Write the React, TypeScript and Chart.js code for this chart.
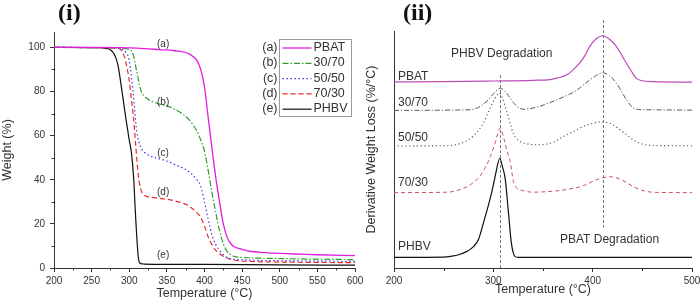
import React, { useEffect, useRef } from 'react';
import { Chart, registerables } from 'chart.js';
Chart.register(...registerables);

const FONT = "'Liberation Sans', Arial, Helvetica, sans-serif";
const SERIF = "'Liberation Serif', 'Times New Roman', serif";
const INK = '#333333';

// ---------- (i) TGA data: temperature (°C) -> weight (%) ----------
const tgaTempPBAT = [200, 250, 300, 320, 340, 360, 380, 390, 395, 400, 405, 410, 415, 420, 425, 430, 435, 440, 450, 460, 480, 500, 550, 600];
const tgaPBAT = [100, 100, 99.8, 99.5, 99, 98.5, 97, 94, 90, 82, 68, 54, 41, 30, 20, 14, 11, 9.5, 8.5, 7.6, 7, 6.6, 6, 5.6];

const tgaTemp3070 = [200, 280, 290, 300, 305, 310, 315, 320, 325, 330, 340, 350, 360, 370, 380, 390, 395, 400, 405, 410, 415, 420, 425, 430, 435, 440, 450, 500, 550, 600];
const tga3070 = [100, 99.8, 99.6, 99, 97, 89, 81, 78, 76.5, 75.5, 74.3, 73.5, 72, 70, 67, 62, 58, 53, 44, 34, 25, 17, 11, 7.5, 6, 5.2, 4.8, 4.3, 4, 3.8];

const tgaTemp5050 = [200, 285, 290, 295, 300, 305, 310, 315, 320, 330, 340, 350, 360, 370, 380, 390, 395, 400, 405, 410, 415, 420, 425, 430, 440, 460, 500, 600];
const tga5050 = [100, 99.8, 99.3, 98, 94, 80, 62, 55, 52.5, 50.5, 49.5, 48.5, 47, 45.5, 43.5, 40, 37, 30, 22, 15, 10.5, 8, 6, 4.8, 4, 3.6, 3.3, 3];

const tgaTemp7030 = [200, 280, 290, 295, 300, 303, 306, 309, 312, 315, 320, 330, 340, 350, 360, 370, 380, 390, 395, 400, 405, 410, 415, 420, 430, 440, 460, 500, 600];
const tga7030 = [100, 99.8, 98.5, 94, 85, 76, 67, 54, 42, 36, 33, 32, 31.6, 31.2, 30.5, 29.5, 28, 25, 23, 19, 14, 10.5, 8, 6.5, 4.5, 3.5, 3, 2.7, 2.4];

const tgaTempPHBV = [200, 260, 270, 275, 280, 285, 290, 295, 300, 303, 306, 308, 310, 312, 314, 320, 400, 500, 600];
const tgaPHBV = [100, 99.9, 99.5, 99, 97, 92, 81, 69, 58, 52, 40, 26, 14, 5, 2.3, 1.8, 1.6, 1.4, 1.3];

// ---------- (ii) DTG data: temperature (°C) -> offset derivative (arb.) ----------
const dtgTempPBAT = [200, 250, 300, 340, 357, 365, 374, 380, 387, 392, 397, 403, 410, 417, 424, 429, 434, 439, 444, 450, 460, 500];
const dtgPBAT = [78.5, 78.6, 78.9, 79.2, 79.5, 80.2, 81.5, 83.5, 86.5, 89.5, 93.4, 96.5, 98, 96.5, 93.4, 90, 86.4, 83, 80, 79, 78.6, 78.4];

const dtgTemp3070 = [200, 270, 280, 288, 295, 300, 307, 313, 318, 323, 330, 345, 355, 364, 375, 384, 390, 397, 404, 410, 417, 424, 429, 434, 441, 450, 470, 500];
const dtg3070 = [66.5, 66.7, 67, 68.5, 71, 73.5, 75.8, 74, 71, 68.5, 67, 68, 69.5, 71, 73, 75, 77, 79.3, 81.3, 82.4, 81, 78, 74.5, 71, 67.5, 66.8, 66.7, 66.6];

const dtgTemp5050 = [200, 250, 262, 270, 278, 285, 291, 296, 301, 306, 310, 313, 317, 320, 325, 333, 345, 360, 370, 380, 390, 400, 410, 420, 428, 435, 441, 450, 460, 500];
const dtg5050 = [51.5, 51.6, 52, 53, 55, 58, 62, 66.7, 71, 73.8, 71, 66.7, 61, 56.8, 54, 52.5, 52, 53, 55.4, 57.5, 59.6, 61, 61.7, 60.5, 58.2, 56, 54, 52.3, 51.7, 51.6];

const dtgTemp7030 = [200, 255, 262, 270, 278, 286, 292, 297, 302, 307, 311, 314, 317, 320, 323, 327, 340, 360, 375, 390, 405, 418, 430, 441, 452, 465, 500];
const dtg7030 = [31.8, 32, 32.6, 33.6, 35.5, 38.5, 42.5, 47, 53, 59, 54, 49, 45, 37, 34, 33, 32, 32.4, 33.2, 34.6, 37.4, 38.5, 37, 34.3, 32.5, 31.9, 31.8];

const dtgTempPHBV = [200, 250, 258, 265, 273, 280, 285, 290, 296, 300, 303, 306.5, 309, 312, 315, 318, 320, 322, 325, 400, 500];
const dtgPHBV = [4.5, 4.6, 5, 5.6, 6.9, 9, 12, 19, 28, 35, 41, 46.3, 43, 37.5, 24.5, 11, 6.5, 4.8, 4.5, 4.5, 4.5];

// tick / label values
const tgaMinorX = [225, 275, 325, 375, 425, 475, 525, 575];
const tgaMinorY = [10, 30, 50, 70, 90];
const dtgMinorX = [250, 350, 450];
const legendLetters = ['(a)', '(b)', '(c)', '(d)', '(e)'];
const seriesNames = ['PBAT', '30/70', '50/50', '70/30', 'PHBV'];
const tgaLabelTemp = 345;
const tgaLabelWeights = [101.5, 75, 52, 34.5, 6];
const dtgLabelTemp = 204;
const dtgLabelValues = [80.6, 69.6, 54.9, 35.9, 8.9];
const peakPHBV = 307;
const peakPBAT = 410.6;

const pts = (xs: number[], ys: number[]) => xs.map((x, i) => ({ x, y: ys[i] }));

const leftStyles = [
  { color: '#e21de2', dash: [] as number[], width: 1.3 },
  { color: '#2e9e2e', dash: [6, 2, 1.5, 2], width: 1.2 },
  { color: '#3a3af0', dash: [1.5, 2.5], width: 1.2 },
  { color: '#ee2a2a', dash: [5, 3], width: 1.2 },
  { color: '#111111', dash: [] as number[], width: 1.2 },
];
const rightStyles = [
  { color: '#b84db8', dash: [] as number[], width: 1.2 },
  { color: '#4a624a', dash: [5, 2, 1.2, 2], width: 1 },
  { color: '#555555', dash: [1.2, 2.6], width: 1.1 },
  { color: '#c8505e', dash: [4, 3], width: 1 },
  { color: '#111111', dash: [] as number[], width: 1.2 },
];

function minorTicks(chart: any, axis: string, values: number[], len: number) {
  const ctx = chart.ctx;
  const s = chart.scales[axis];
  const ca = chart.chartArea;
  ctx.save();
  ctx.strokeStyle = INK;
  ctx.lineWidth = 1;
  ctx.setLineDash([]);
  ctx.beginPath();
  values.forEach((v) => {
    const p = Math.round(s.getPixelForValue(v)) + 0.5;
    if (axis === 'x') {
      ctx.moveTo(p, ca.bottom);
      ctx.lineTo(p, ca.bottom + len);
    } else {
      ctx.moveTo(ca.left, p);
      ctx.lineTo(ca.left - len, p);
    }
  });
  ctx.stroke();
  ctx.restore();
}

const leftOverlay = {
  id: 'leftOverlay',
  afterDraw(chart: any) {
    const ctx = chart.ctx;
    const ca = chart.chartArea;
    const xs = chart.scales.x;
    const ys = chart.scales.y;
    minorTicks(chart, 'x', tgaMinorX, 2.5);
    minorTicks(chart, 'y', tgaMinorY, 2.5);
    ctx.save();
    ctx.fillStyle = '#111';
    ctx.font = `bold 24px ${SERIF}`;
    ctx.textAlign = 'left';
    ctx.textBaseline = 'alphabetic';
    ctx.fillText('(i)', 58, 19.5);
    ctx.fillStyle = INK;
    ctx.font = `10px ${FONT}`;
    ctx.textAlign = 'center';
    ctx.textBaseline = 'middle';
    legendLetters.forEach((t, i) => {
      ctx.fillText(t, xs.getPixelForValue(tgaLabelTemp), ys.getPixelForValue(tgaLabelWeights[i]));
    });
    const bx = ca.right - 75.5;
    const by = ca.top + 7.5;
    ctx.strokeStyle = '#9a9a9a';
    ctx.lineWidth = 1;
    ctx.strokeRect(bx, by, 72, 77);
    ctx.font = `12.5px ${FONT}`;
    seriesNames.forEach((name, i) => {
      const ry = by + 8 + i * 15.3;
      ctx.fillStyle = INK;
      ctx.textAlign = 'right';
      ctx.fillText(legendLetters[i], bx - 2, ry);
      ctx.textAlign = 'left';
      ctx.fillText(name, bx + 34, ry);
      const st = leftStyles[i];
      ctx.strokeStyle = st.color;
      ctx.lineWidth = st.width;
      ctx.setLineDash(st.dash);
      ctx.beginPath();
      ctx.moveTo(bx + 3, ry + 0.5);
      ctx.lineTo(bx + 32, ry + 0.5);
      ctx.stroke();
      ctx.setLineDash([]);
    });
    ctx.restore();
  },
};

const rightOverlay = {
  id: 'rightOverlay',
  afterDraw(chart: any) {
    const ctx = chart.ctx;
    const ca = chart.chartArea;
    const xs = chart.scales.x;
    const ys = chart.scales.y;
    minorTicks(chart, 'x', dtgMinorX, 3);
    ctx.save();
    ctx.strokeStyle = '#777';
    ctx.lineWidth = 1;
    ctx.setLineDash([3, 2]);
    const x1 = Math.round(xs.getPixelForValue(peakPHBV)) + 0.5;
    const x2 = Math.round(xs.getPixelForValue(peakPBAT)) + 0.5;
    ctx.beginPath();
    ctx.moveTo(x1, ys.getPixelForValue(81.4));
    ctx.lineTo(x1, ca.bottom);
    ctx.moveTo(x2, ca.top - 11);
    ctx.lineTo(x2, ys.getPixelForValue(17));
    ctx.stroke();
    ctx.setLineDash([]);
    ctx.fillStyle = '#111';
    ctx.font = `bold 24px ${SERIF}`;
    ctx.textAlign = 'left';
    ctx.textBaseline = 'alphabetic';
    ctx.fillText('(ii)', 45, 19.5);
    ctx.fillStyle = INK;
    ctx.font = `12px ${FONT}`;
    ctx.textBaseline = 'middle';
    ctx.textAlign = 'left';
    seriesNames.forEach((name, i) => {
      ctx.fillText(name, xs.getPixelForValue(dtgLabelTemp), ys.getPixelForValue(dtgLabelValues[i]));
    });
    ctx.textAlign = 'center';
    ctx.fillText('PHBV Degradation', xs.getPixelForValue(308.5), ys.getPixelForValue(90.5));
    ctx.fillText('PBAT Degradation', xs.getPixelForValue(417), ys.getPixelForValue(11.8));
    ctx.restore();
  },
};

function makeDatasets(list: { x: number[]; y: number[] }[], styles: any[]) {
  return list.map((d, i) => ({
    label: seriesNames[i],
    data: pts(d.x, d.y),
    borderColor: styles[i].color,
    borderWidth: styles[i].width,
    borderDash: styles[i].dash,
    pointRadius: 0,
    fill: false,
    cubicInterpolationMode: 'monotone' as const,
  }));
}

function axisX(min: number, max: number, step: number, titlePadBottom: number) {
  return {
    type: 'linear' as const,
    min,
    max,
    afterFit: (s: any) => { s.height = 40; s.paddingLeft = 0; s.paddingRight = 0; },
    ticks: { stepSize: step, includeBounds: false, font: { size: 10, family: FONT }, color: INK, padding: 3, maxRotation: 0 },
    grid: { drawOnChartArea: false, tickLength: 4, color: INK, lineWidth: 1 },
    border: { display: true, color: INK, width: 1 },
    title: { display: true, text: 'Temperature (°C)', font: { size: 12.5, family: FONT }, color: INK, padding: { top: 0, bottom: titlePadBottom } },
  };
}

export default function App() {
  const leftRef = useRef<HTMLCanvasElement>(null);
  const rightRef = useRef<HTMLCanvasElement>(null);

  useEffect(() => {
    Chart.defaults.font.family = FONT;
    Chart.defaults.color = INK;

    const left = new Chart(leftRef.current as HTMLCanvasElement, {
      type: 'line',
      data: {
        datasets: makeDatasets(
          [
            { x: tgaTempPBAT, y: tgaPBAT },
            { x: tgaTemp3070, y: tga3070 },
            { x: tgaTemp5050, y: tga5050 },
            { x: tgaTemp7030, y: tga7030 },
            { x: tgaTempPHBV, y: tgaPHBV },
          ],
          leftStyles
        ) as any,
      },
      options: {
        responsive: false,
        animation: false,
        devicePixelRatio: 1,
        layout: { padding: { top: 32, right: 17, left: 0, bottom: 0 } },
        plugins: { legend: { display: false }, tooltip: { enabled: false } },
        scales: {
          x: axisX(200, 600, 50, 7) as any,
          y: {
            type: 'linear',
            min: 0,
            max: 107,
            afterFit: (s: any) => { s.width = 54; s.paddingTop = 0; s.paddingBottom = 0; },
            ticks: { stepSize: 20, includeBounds: false, font: { size: 10, family: FONT }, color: INK, padding: 5 },
            grid: { drawOnChartArea: false, tickLength: 4, color: INK, lineWidth: 1 },
            border: { display: true, color: INK, width: 1 },
            title: { display: true, text: 'Weight (%)', font: { size: 12.5, family: FONT }, color: INK, padding: { top: 0, bottom: 0 } },
          } as any,
        },
      },
      plugins: [leftOverlay],
    });

    const right = new Chart(rightRef.current as HTMLCanvasElement, {
      type: 'line',
      data: {
        datasets: makeDatasets(
          [
            { x: dtgTempPBAT, y: dtgPBAT },
            { x: dtgTemp3070, y: dtg3070 },
            { x: dtgTemp5050, y: dtg5050 },
            { x: dtgTemp7030, y: dtg7030 },
            { x: dtgTempPHBV, y: dtgPHBV },
          ],
          rightStyles
        ) as any,
      },
      options: {
        responsive: false,
        animation: false,
        devicePixelRatio: 1,
        layout: { padding: { top: 31, right: 8, left: 0, bottom: 0 } },
        plugins: { legend: { display: false }, tooltip: { enabled: false } },
        scales: {
          x: axisX(200, 500, 100, 10.5) as any,
          y: {
            type: 'linear',
            min: 0,
            max: 100,
            afterFit: (s: any) => { s.width = 36; s.paddingTop = 0; s.paddingBottom = 0; },
            ticks: { display: false },
            grid: { display: true, drawOnChartArea: false, drawTicks: false, color: INK },
            border: { display: true, color: INK, width: 1 },
            title: { display: true, text: 'Derivative Weight Loss (%/°C)', font: { size: 12.5, family: FONT }, color: INK, padding: { top: 6.5, bottom: 0 } },
          } as any,
        },
      },
      plugins: [rightOverlay],
    });

    return () => {
      left.destroy();
      right.destroy();
    };
  }, []);

  return (
    <div style={{ position: 'absolute', left: 0, top: 0, width: 700, height: 308, background: '#fff', overflow: 'hidden' }}>
      <canvas ref={leftRef} width={372} height={308} style={{ position: 'absolute', left: 0, top: 0, width: 372, height: 308 }} />
      <canvas ref={rightRef} width={342} height={308} style={{ position: 'absolute', left: 358, top: 0, width: 342, height: 308 }} />
    </div>
  );
}
